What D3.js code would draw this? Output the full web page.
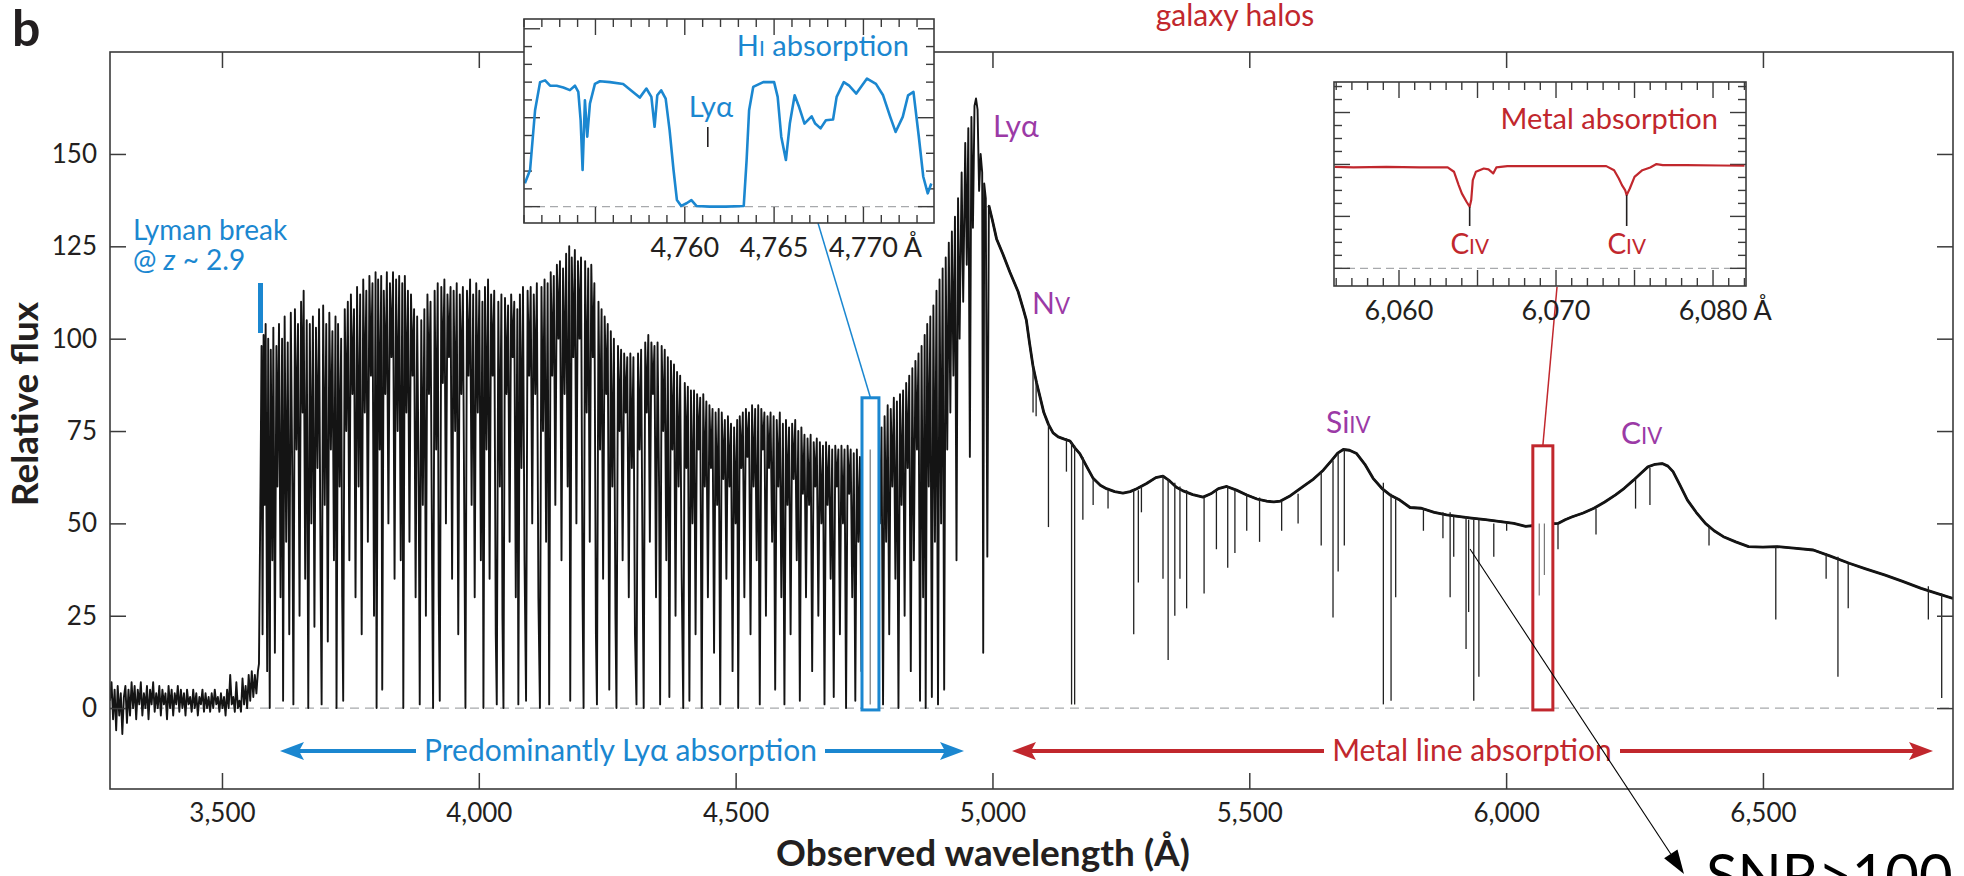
<!DOCTYPE html>
<html><head><meta charset="utf-8">
<script src="https://cdn.jsdelivr.net/npm/d3@7"></script>
<style>
body{margin:0;background:#fff}
svg{display:block}
text{font-family:Lato,'Open Sans','Noto Sans',sans-serif}
</style>
</head><body>
<svg id="c" width="1964" height="876"></svg>
<script>
// ---------------- DATA ----------------
const xTicks = [3500, 4000, 4500, 5000, 5500, 6000, 6500];
const yTicks = [0, 25, 50, 75, 100, 125, 150];

// noisy flux below the Lyman break  [wavelength Å, relative flux]
const noiseSpectrum = [[3282,2],[3285,7],[3288,-3],[3291,5],[3294,-6],[3297,6],[3300,-2],[3303,4],[3306,-7],[3309,3],[3312,6],[3315,-4],[3318,5],[3321,-2],[3324,7],[3327,0],[3330,6],[3333,-3],[3336,5],[3339,1],[3342,7],[3345,-2],[3348,4],[3351,0],[3354,6],[3357,-3],[3360,5],[3363,1],[3366,7],[3369,-1],[3372,4],[3375,0],[3378,6],[3381,-2],[3384,5],[3387,1],[3390,4],[3393,-3],[3396,6],[3399,0],[3402,5],[3405,-2],[3408,4],[3411,1],[3414,6],[3417,-1],[3420,5],[3423,0],[3426,4],[3429,-2],[3432,5],[3435,1],[3438,3],[3441,-1],[3444,5],[3447,0],[3450,4],[3453,-2],[3456,3],[3459,1],[3462,5],[3465,-1],[3468,4],[3471,0],[3474,3],[3477,-1],[3480,4],[3483,0],[3486,5],[3489,1],[3492,3],[3495,-1],[3498,4],[3501,0],[3504,3],[3507,-2],[3510,5],[3513,0],[3516,9],[3519,1],[3522,3],[3525,-1],[3528,7],[3531,0],[3534,2],[3537,-1],[3540,8],[3543,1],[3546,6],[3549,0],[3552,9],[3555,2],[3558,10],[3561,3],[3564,9],[3567,4],[3570,10]];

// Lyman-alpha forest: successive maxima / minima
const forestSpectrum = [[3572,12],[3575,60],[3577,98],[3579,20],[3581,101],[3583,55],[3585,104],[3588,10],[3590,100],[3593,0],[3595,97],[3598,40],[3600,103],[3603,15],[3606,98],[3608,60],[3611,104],[3614,30],[3617,100],[3619,2],[3622,106],[3625,45],[3628,99],[3631,20],[3634,107],[3637,60],[3639,1],[3642,108],[3645,70],[3648,104],[3651,25],[3654,110],[3657,80],[3659,113],[3662,35],[3665,105],[3668,0],[3671,104],[3674,50],[3677,106],[3680,22],[3683,103],[3686,65],[3689,108],[3692,35],[3694,1],[3697,109],[3700,55],[3703,104],[3706,18],[3709,107],[3712,70],[3715,102],[3718,40],[3721,106],[3723,0],[3726,104],[3729,60],[3732,100],[3734,30],[3736,2],[3739,108],[3742,75],[3745,110],[3748,40],[3751,112],[3754,85],[3757,108],[3760,30],[3763,114],[3766,60],[3769,112],[3772,20],[3775,116],[3778,80],[3781,113],[3784,45],[3787,117],[3790,90],[3793,115],[3796,25],[3799,118],[3801,0],[3804,116],[3807,70],[3810,117],[3812,5],[3815,113],[3818,85],[3821,118],[3824,50],[3827,115],[3830,95],[3833,118],[3836,35],[3839,116],[3842,75],[3845,117],[3848,40],[3851,115],[3853,0],[3856,117],[3859,80],[3862,113],[3865,45],[3868,112],[3871,90],[3874,108],[3877,30],[3880,106],[3883,60],[3885,1],[3888,105],[3891,55],[3894,108],[3897,25],[3900,112],[3903,85],[3906,110],[3909,40],[3911,0],[3914,113],[3917,70],[3920,115],[3922,30],[3924,2],[3927,114],[3930,88],[3933,116],[3936,50],[3939,112],[3942,95],[3945,114],[3948,35],[3951,113],[3954,75],[3957,115],[3960,20],[3963,112],[3966,85],[3969,114],[3972,45],[3974,0],[3977,113],[3980,90],[3983,116],[3986,55],[3989,112],[3992,30],[3995,115],[3998,80],[4001,113],[4004,40],[4007,110],[4009,0],[4012,114],[4015,70],[4018,116],[4021,35],[4024,112],[4027,90],[4030,113],[4033,20],[4035,1],[4038,110],[4041,60],[4044,112],[4046,25],[4048,0],[4051,111],[4054,85],[4057,109],[4060,45],[4063,112],[4066,95],[4069,110],[4072,30],[4075,108],[4077,1],[4080,112],[4083,65],[4086,114],[4089,40],[4092,2],[4095,113],[4098,90],[4101,114],[4104,50],[4107,112],[4110,85],[4113,115],[4116,30],[4119,0],[4122,114],[4125,75],[4128,116],[4131,45],[4134,115],[4137,1],[4140,118],[4143,90],[4146,117],[4149,55],[4152,120],[4155,100],[4158,121],[4161,40],[4164,119],[4167,85],[4170,123],[4173,60],[4176,125],[4178,2],[4181,122],[4184,95],[4187,124],[4190,50],[4193,121],[4196,100],[4199,122],[4202,30],[4204,0],[4207,121],[4210,80],[4213,119],[4216,45],[4219,120],[4222,95],[4225,115],[4228,20],[4230,1],[4233,110],[4236,70],[4239,108],[4242,35],[4245,106],[4248,85],[4251,104],[4254,5],[4257,102],[4260,60],[4263,100],[4266,25],[4268,0],[4271,98],[4274,75],[4277,97],[4280,40],[4283,96],[4286,80],[4289,95],[4292,30],[4295,96],[4298,65],[4301,95],[4304,20],[4307,1],[4310,96],[4313,70],[4316,97],[4319,35],[4321,0],[4324,99],[4327,80],[4330,101],[4333,45],[4336,99],[4339,85],[4342,98],[4345,30],[4348,99],[4351,60],[4353,1],[4356,98],[4359,75],[4362,97],[4365,40],[4368,95],[4371,3],[4374,94],[4377,70],[4380,93],[4383,25],[4386,91],[4389,60],[4392,90],[4395,35],[4398,0],[4401,88],[4404,65],[4407,87],[4410,2],[4413,86],[4416,50],[4419,86],[4422,20],[4425,85],[4428,70],[4431,84],[4434,0],[4437,85],[4440,60],[4443,83],[4446,30],[4449,82],[4452,65],[4455,81],[4458,15],[4461,80],[4464,55],[4467,81],[4470,1],[4473,80],[4476,62],[4479,78],[4482,35],[4485,79],[4488,60],[4491,77],[4494,10],[4497,76],[4500,50],[4503,78],[4505,0],[4508,79],[4511,65],[4514,80],[4517,30],[4520,81],[4523,68],[4526,80],[4529,20],[4532,82],[4535,60],[4538,81],[4541,40],[4544,82],[4547,1],[4550,81],[4553,70],[4556,80],[4559,25],[4562,79],[4565,65],[4568,80],[4571,45],[4574,79],[4577,5],[4580,78],[4583,60],[4586,80],[4589,30],[4592,77],[4595,1],[4598,78],[4601,55],[4604,76],[4607,20],[4610,77],[4613,62],[4616,78],[4619,40],[4622,75],[4625,2],[4628,76],[4631,58],[4634,74],[4637,30],[4640,73],[4643,55],[4646,74],[4649,10],[4652,72],[4655,60],[4658,73],[4661,25],[4664,72],[4667,50],[4670,71],[4673,1],[4676,72],[4679,55],[4682,71],[4685,35],[4688,70],[4691,3],[4694,71],[4697,60],[4700,70],[4703,20],[4706,71],[4709,50],[4712,70],[4715,0],[4718,71],[4721,58],[4724,70],[4727,30],[4730,69],[4733,2],[4736,70],[4739,45],[4742,68],[4745,10],[4748,66],[4751,30],[4754,68],[4757,2],[4760,1],[4763,60],[4766,70],[4769,40],[4772,68],[4775,5],[4778,72],[4781,50],[4784,76],[4787,1],[4790,79],[4793,45],[4796,82],[4799,20],[4802,81],[4805,60],[4808,84],[4811,35],[4814,83],[4817,0],[4820,85],[4823,55],[4826,86],[4829,25],[4832,88],[4835,65],[4838,90],[4841,10],[4844,92],[4847,40],[4850,94],[4853,70],[4856,96],[4859,2],[4862,98],[4865,30],[4868,101],[4870,0],[4873,104],[4876,60],[4879,106],[4882,3],[4885,109],[4888,45],[4891,113],[4894,1],[4897,116],[4900,50],[4903,119],[4906,5],[4909,122],[4912,70],[4915,126],[4918,80],[4921,129],[4924,90],[4927,133],[4930,40],[4933,138],[4936,100],[4940,145],[4943,110],[4947,153],[4950,120],[4953,157],[4956,68],[4959,160],[4962,130],[4965,163],[4968,165],[4971,162],[4974,140],[4977,150],[4980,145],[4982,15],[4984,142],[4987,138],[4990,41],[4993,136]];

// emission-line continuum redward of Lyα
const continuumSpectrum = [[4993,136],[5000,132],[5008,127],[5020,123],[5034,118],[5050,112.7],[5060,108],[5066,105],[5072,99],[5079,92.5],[5086,88],[5092,84.6],[5100,80],[5109,76.8],[5118,74.5],[5128,73.4],[5140,72.8],[5151,72.3],[5160,70.5],[5170,68.9],[5183,65.5],[5196,62.2],[5210,60.3],[5222,59.4],[5238,58.6],[5254,58.2],[5268,58.6],[5281,59.4],[5300,60.8],[5318,62.4],[5332,62.8],[5345,61.5],[5358,59.8],[5371,58.8],[5390,57.8],[5410,57.1],[5425,58],[5440,59.4],[5456,60],[5475,59],[5495,57.7],[5515,56.6],[5534,56],[5548,55.8],[5560,56],[5580,57.5],[5605,60],[5625,62],[5644,64.4],[5660,67],[5672,69],[5683,70],[5695,69.8],[5709,68.9],[5725,66],[5741,62.2],[5758,59.5],[5774,57.7],[5793,56.3],[5813,54.3],[5835,54.1],[5860,53],[5884,52.3],[5910,51.8],[5933,51.4],[5960,51],[5989,50.5],[6015,50],[6038,49.2],[6060,49.5],[6080,49.8],[6101,50],[6115,51],[6129,51.8],[6150,52.8],[6171,54.1],[6192,55.8],[6213,57.7],[6230,59.5],[6248,61.7],[6262,63.5],[6276,65.3],[6290,66],[6304,66.2],[6315,65.5],[6325,64],[6338,60.5],[6353,56.3],[6370,53],[6388,50],[6405,48],[6423,46.4],[6447,45],[6472,43.7],[6500,43.6],[6528,43.7],[6560,43.3],[6598,42.8],[6630,41.2],[6668,39.2],[6700,37.7],[6738,36],[6772,34.3],[6808,32.4],[6840,31],[6870,29.7]];

// narrow metal absorption lines: [wavelength, continuum flux, line-centre flux]
const metalLines = [[5079,93,80],[5085,88,79],[5109,77,49],[5144,73,64],[5154,72,1],[5160,71,1],[5176,68,51],[5196,62,55],[5225,59,54],[5275,59,20],[5284,59,34],[5290,60,53],[5332,63,35],[5342,62,13],[5355,61,25],[5365,60,35],[5378,59,27],[5412,57,31],[5436,59,43],[5458,60,38],[5472,59,42],[5495,58,48],[5520,57,45],[5563,56,48],[5595,58,50],[5640,64,44],[5663,67,24.5],[5673,69,37],[5685,70,44],[5761,61,1],[5776,58,2],[5785,57,30],[5839,54,48],[5877,53,46],[5891,53,30],[5898,52,41],[5922,52,16],[5927,51,26],[5937,51,2],[5947,51,8.5],[5976,50,41],[6001,50,48],[6101,50,43],[6175,54,47],[6252,62,54],[6280,65,55],[6395,49,44],[6525,43.7,24],[6623,42,35],[6646,41,8.5],[6666,39,27],[6822,33,24],[6848,31,2.7]];

// zoom windows on the main spectrum
const hiWindow = [4746, 4779], hiWindowTop = 84;
const metalWindow = [6052, 6091], metalWindowTop = 71;
const hiWindowLines = [[4762, 70, 1]];
const metalWindowLines = [[6064.5, 50, 30.5], [6074.5, 50, 36]];

// inset: H I absorption (flux in inset tick units)
const hiInset = [[4751.05,1.31],[4751.34,2.06],[4751.62,5.42],[4751.9,7.0],[4752.18,7.1],[4752.46,6.8],[4752.83,6.8],[4753.2,6.7],[4753.57,6.55],[4753.85,6.8],[4754.04,6.45],[4754.17,4.86],[4754.28,2.06],[4754.41,5.98],[4754.54,3.93],[4754.69,5.79],[4754.97,6.9],[4755.25,7.05],[4755.81,7.0],[4756.55,6.9],[4757.1,6.45],[4757.48,6.13],[4757.85,6.64],[4758.13,6.17],[4758.31,4.49],[4758.46,6.26],[4758.68,6.54],[4758.93,6.07],[4759.15,4.3],[4759.37,2.06],[4759.56,0.37],[4759.8,0.04],[4760.1,0.19],[4760.37,0.37],[4760.65,0.04],[4761.4,0],[4762.3,0],[4763.3,0.04],[4763.46,2.6],[4763.6,5.42],[4763.83,6.73],[4764.39,7.0],[4765.0,7.0],[4765.2,6.17],[4765.4,3.93],[4765.66,2.62],[4765.88,4.67],[4766.15,6.26],[4766.4,5.6],[4766.7,4.67],[4767.1,5.08],[4767.3,4.67],[4767.6,4.4],[4767.9,4.86],[4768.3,4.9],[4768.5,6.17],[4768.9,7.0],[4769.2,6.8],[4769.6,6.36],[4769.8,6.64],[4770.2,7.2],[4770.7,6.9],[4771.1,6.26],[4771.5,5.05],[4771.8,4.2],[4772.2,5.05],[4772.5,6.26],[4772.8,6.45],[4773.1,3.93],[4773.35,1.68],[4773.6,0.75],[4773.8,1.3]];
const hiInsetTicks = [4760, 4765, 4770];
const hiLyaMark = [4761.4];

// inset: metal (C IV doublet) absorption
const metalInset = [[6055.9,7.82],[6057.1,7.77],[6059.2,7.82],[6061.3,7.77],[6063.1,7.77],[6063.5,7.44],[6063.8,6.41],[6064.0,5.77],[6064.3,5.13],[6064.5,4.74],[6064.6,5.26],[6064.7,6.79],[6064.9,7.44],[6065.4,7.69],[6065.7,7.62],[6066.0,7.31],[6066.2,7.77],[6066.9,7.87],[6068.8,7.87],[6070.9,7.87],[6073.2,7.87],[6073.7,7.56],[6074.0,6.92],[6074.2,6.41],[6074.4,6.03],[6074.5,5.64],[6074.7,6.15],[6075.0,7.05],[6075.5,7.56],[6076.0,7.77],[6076.4,8.03],[6076.8,7.95],[6078.3,7.95],[6080.5,7.92],[6082.0,7.9]];
const metalInsetTicks = [6060, 6070, 6080];
const civDips = [[6064.5, 4.74], [6074.5, 5.64]];

// ---------------- DRAWING ----------------
const ink = "#231f20", frame = "#3b3b3b", blue = "#1b87d0", red = "#c1272d",
      purple = "#9b3aa6", dash = "#a7a9ac", specCol = "#141414";
const FONT = "Lato,'Open Sans','Noto Sans',sans-serif";
const svg = d3.select("#c");

const L = 110, R = 1953, T = 52, B = 789;
const x = d3.scaleLinear().domain([3282, 6870]).range([L, R]);
const y = d3.scaleLinear().domain([-21.9, 177.6]).range([B, T]);

const defs = svg.append("defs");
defs.append("clipPath").attr("id", "mainclip").append("rect")
  .attr("x", L).attr("y", T).attr("width", R - L).attr("height", B - T);

// zero line
svg.append("line").attr("x1", L).attr("x2", R).attr("y1", y(0)).attr("y2", y(0))
  .attr("stroke", dash).attr("stroke-width", 1.4).attr("stroke-dasharray", "9,6");

const plot = svg.append("g").attr("clip-path", "url(#mainclip)");
const line = d3.line().x(d => x(d[0])).y(d => y(d[1]));
const spectrum = noiseSpectrum.concat(forestSpectrum, continuumSpectrum);
plot.append("path").attr("d", line(spectrum)).attr("fill", "none")
  .attr("stroke", specCol).attr("stroke-width", 1.9).attr("stroke-linejoin", "round");
plot.append("path").attr("d", line(continuumSpectrum)).attr("fill", "none")
  .attr("stroke", specCol).attr("stroke-width", 2.8).attr("stroke-linejoin", "round");
plot.selectAll(".ml").data(metalLines).join("line").attr("class", "ml")
  .attr("x1", d => x(d[0])).attr("x2", d => x(d[0]))
  .attr("y1", d => y(d[1])).attr("y2", d => y(d[2]))
  .attr("stroke", "#222").attr("stroke-width", 1.3);

// zoom windows
function windowBox(win, top, col, lines) {
  svg.append("rect").attr("x", x(win[0])).attr("y", y(top))
    .attr("width", x(win[1]) - x(win[0])).attr("height", y(-0.5) - y(top))
    .attr("fill", "#fff").attr("stroke", col).attr("stroke-width", 3);
  svg.selectAll(null).data(lines).join("line")
    .attr("x1", d => x(d[0])).attr("x2", d => x(d[0]))
    .attr("y1", d => y(d[1])).attr("y2", d => y(d[2]))
    .attr("stroke", "#777").attr("stroke-width", 1.2);
}
windowBox(hiWindow, hiWindowTop, blue, hiWindowLines);
windowBox(metalWindow, metalWindowTop, red, metalWindowLines);

// Lyman break marker
svg.append("line").attr("x1", 260.5).attr("x2", 260.5).attr("y1", 283).attr("y2", 333)
  .attr("stroke", blue).attr("stroke-width", 5);

// main axes (inward ticks on all four sides)
function styleAxis(g) {
  g.select(".domain").remove();
  g.selectAll("line").attr("stroke", frame).attr("stroke-width", 1.5);
  g.selectAll("text").attr("fill", ink).attr("font-size", 26).attr("font-family", FONT);
}
svg.append("g").attr("transform", `translate(0,${B})`)
  .call(d3.axisBottom(x).tickValues(xTicks).tickSize(-16).tickPadding(15).tickFormat(d3.format(",")))
  .call(styleAxis);
svg.append("g").attr("transform", `translate(0,${T})`)
  .call(d3.axisTop(x).tickValues(xTicks).tickSize(-16).tickFormat(""))
  .call(styleAxis);
svg.append("g").attr("transform", `translate(${L},0)`)
  .call(d3.axisLeft(y).tickValues(yTicks).tickSize(-16).tickPadding(13))
  .call(styleAxis);
svg.append("g").attr("transform", `translate(${R},0)`)
  .call(d3.axisRight(y).tickValues(yTicks).tickSize(-16).tickFormat(""))
  .call(styleAxis);
svg.append("rect").attr("x", L).attr("y", T).attr("width", R - L).attr("height", B - T)
  .attr("fill", "none").attr("stroke", frame).attr("stroke-width", 1.6);

// axis titles
svg.append("text").attr("x", 983).attr("y", 866).attr("text-anchor", "middle")
  .attr("font-weight", 700).attr("font-size", 37).attr("fill", ink).text("Observed wavelength (Å)");
svg.append("text").attr("transform", "translate(38,404) rotate(-90)").attr("text-anchor", "middle")
  .attr("font-weight", 700).attr("font-size", 37).attr("fill", ink).text("Relative flux");
svg.append("text").attr("x", 12).attr("y", 46).attr("font-weight", 700).attr("font-size", 50)
  .attr("fill", ink).text("b");

// helper for labels with small-capital ionisation stages
function scText(xp, yp, parts, col, size, anchor) {
  const t = svg.append("text").attr("x", xp).attr("y", yp).attr("fill", col)
    .attr("font-size", size).attr("text-anchor", anchor || "start");
  parts.forEach(p => t.append("tspan").attr("font-size", p[1] ? size * 0.74 : size).text(p[0]));
  return t;
}

// annotations: Lyman break (two lines in one text element)
const lb = svg.append("text").attr("x", 133).attr("y", 240).attr("fill", blue).attr("font-size", 28);
lb.append("tspan").attr("x", 133).text("Lyman break");
lb.append("tspan").attr("x", 133).attr("dy", 30).text("@ ");
lb.append("tspan").attr("font-style", "italic").text("z");
lb.append("tspan").text(" ~ 2.9");

scText(993, 137, [["Lyα", 0]], purple, 30);
scText(1032, 314, [["N", 0], ["V", 1]], purple, 30);
scText(1326, 433, [["Si", 0], ["IV", 1]], purple, 30);
scText(1621, 444, [["C", 0], ["IV", 1]], purple, 30);

svg.append("text").attr("x", 1235).attr("y", 26).attr("text-anchor", "middle")
  .attr("fill", red).attr("font-size", 30).text("galaxy halos");

// range arrows
function rangeArrow(x0, x1, yy, gap0, gap1, col, label) {
  const g = svg.append("g");
  g.append("line").attr("x1", x0 + 18).attr("x2", gap0).attr("y1", yy).attr("y2", yy)
    .attr("stroke", col).attr("stroke-width", 4);
  g.append("line").attr("x1", gap1).attr("x2", x1 - 18).attr("y1", yy).attr("y2", yy)
    .attr("stroke", col).attr("stroke-width", 4);
  g.append("path").attr("d", `M${x0},${yy} L${x0 + 24},${yy - 9} L${x0 + 19},${yy} L${x0 + 24},${yy + 9} Z`).attr("fill", col);
  g.append("path").attr("d", `M${x1},${yy} L${x1 - 24},${yy - 9} L${x1 - 19},${yy} L${x1 - 24},${yy + 9} Z`).attr("fill", col);
  g.append("text").attr("x", (gap0 + gap1) / 2).attr("y", yy + 10).attr("text-anchor", "middle")
    .attr("fill", col).attr("font-size", 30).text(label);
}
rangeArrow(280, 964, 751, 416, 825, blue, "Predominantly Lyα absorption");
rangeArrow(1012, 1933, 751, 1324, 1620, red, "Metal line absorption");

// connector lines to insets
svg.append("line").attr("x1", 818).attr("y1", 223).attr("x2", (x(hiWindow[0]) + x(hiWindow[1])) / 2).attr("y2", y(hiWindowTop))
  .attr("stroke", blue).attr("stroke-width", 1.5);
svg.append("line").attr("x1", 1557).attr("y1", 287).attr("x2", (x(metalWindow[0]) + x(metalWindow[1])) / 2).attr("y2", y(metalWindowTop))
  .attr("stroke", red).attr("stroke-width", 1.5);

// ---------------- INSETS ----------------
function inset(cfg) {
  const xi = d3.scaleLinear().domain(cfg.xd).range([cfg.x0, cfg.x1]);
  const yi = d3.scaleLinear().domain(cfg.yd).range([cfg.y1, cfg.y0]);
  const g = svg.append("g");
  g.append("rect").attr("x", cfg.x0).attr("y", cfg.y0).attr("width", cfg.x1 - cfg.x0)
    .attr("height", cfg.y1 - cfg.y0).attr("fill", "#fff");
  const cid = cfg.id + "clip";
  defs.append("clipPath").attr("id", cid).append("rect").attr("x", cfg.x0).attr("y", cfg.y0)
    .attr("width", cfg.x1 - cfg.x0).attr("height", cfg.y1 - cfg.y0);
  g.append("line").attr("x1", cfg.x0).attr("x2", cfg.x1).attr("y1", yi(0)).attr("y2", yi(0))
    .attr("stroke", dash).attr("stroke-width", 1.4).attr("stroke-dasharray", "8,5");
  const xMinor = d3.range(Math.ceil(cfg.xd[0]), cfg.xd[1], 1);
  const yMinor = d3.range(0, cfg.yd[1], 1);
  const xs = v => (v % cfg.xMajor === 0 ? 16 : 8);
  const ys = v => (v % cfg.yMajor === 0 ? 16 : 8);
  const tk = g.append("g").attr("stroke", frame).attr("stroke-width", 1.4);
  xMinor.forEach(v => {
    tk.append("line").attr("x1", xi(v)).attr("x2", xi(v)).attr("y1", cfg.y1).attr("y2", cfg.y1 - xs(v));
    tk.append("line").attr("x1", xi(v)).attr("x2", xi(v)).attr("y1", cfg.y0).attr("y2", cfg.y0 + xs(v));
  });
  yMinor.forEach(v => {
    tk.append("line").attr("x1", cfg.x0).attr("x2", cfg.x0 + ys(v)).attr("y1", yi(v)).attr("y2", yi(v));
    tk.append("line").attr("x1", cfg.x1).attr("x2", cfg.x1 - ys(v)).attr("y1", yi(v)).attr("y2", yi(v));
  });
  g.append("path").attr("clip-path", `url(#${cid})`)
    .attr("d", d3.line().x(d => xi(d[0])).y(d => yi(d[1]))(cfg.data))
    .attr("fill", "none").attr("stroke", cfg.col).attr("stroke-width", cfg.sw).attr("stroke-linejoin", "round");
  g.append("rect").attr("x", cfg.x0).attr("y", cfg.y0).attr("width", cfg.x1 - cfg.x0)
    .attr("height", cfg.y1 - cfg.y0).attr("fill", "none").attr("stroke", frame).attr("stroke-width", 1.6);
  const fmt = d3.format(",");
  cfg.ticks.forEach((v, i) => {
    const t = g.append("text").attr("y", cfg.y1 + 34).attr("fill", ink).attr("font-size", 27).text(fmt(v));
    const w = t.node().getComputedTextLength();
    t.attr("x", xi(v) - w / 2);
    if (i === cfg.ticks.length - 1) t.append("tspan").text(" Å");
  });
  return { xi, yi, g };
}

const ins1 = inset({ id: "hi", x0: 524, x1: 934, y0: 19, y1: 223, xd: [4751, 4773.95], yd: [-0.92, 10.55],
  xMajor: 5, yMajor: 5, data: hiInset, col: blue, sw: 2.6, ticks: hiInsetTicks });
const hiT = svg.append("text").attr("x", 909).attr("y", 56).attr("text-anchor", "end")
  .attr("fill", blue).attr("font-size", 29);
hiT.append("tspan").text("H");
hiT.append("tspan").attr("font-size", 21).text("I");
hiT.append("tspan").text(" absorption");
svg.append("text").attr("x", 711).attr("y", 117).attr("text-anchor", "middle")
  .attr("fill", blue).attr("font-size", 29).text("Lyα");
svg.selectAll(null).data(hiLyaMark).join("line")
  .attr("x1", d => ins1.xi(d) - 2).attr("x2", d => ins1.xi(d) - 2).attr("y1", 127).attr("y2", 147)
  .attr("stroke", ink).attr("stroke-width", 1.6);

const ins2 = inset({ id: "mt", x0: 1334, x1: 1746, y0: 82, y1: 286, xd: [6055.86, 6082.1], yd: [-1.36, 14.35],
  xMajor: 5, yMajor: 4, data: metalInset, col: red, sw: 2.2, ticks: metalInsetTicks });
svg.append("text").attr("x", 1718).attr("y", 129).attr("text-anchor", "end")
  .attr("fill", red).attr("font-size", 29).text("Metal absorption");
svg.selectAll(null).data(civDips).join("line")
  .attr("x1", d => ins2.xi(d[0])).attr("x2", d => ins2.xi(d[0]))
  .attr("y1", d => ins2.yi(d[1])).attr("y2", 226)
  .attr("stroke", ink).attr("stroke-width", 1.6);
civDips.forEach(d => scText(ins2.xi(d[0]), 254, [["C", 0], ["IV", 1]], red, 28, "middle"));

// SNR annotation
const ax0 = 1470, ay0 = 549, ax1 = 1684, ay1 = 874;
const ang = Math.atan2(ay1 - ay0, ax1 - ax0);
const hl = 24, hw = 8;
const bx = ax1 - hl * Math.cos(ang), by = ay1 - hl * Math.sin(ang);
svg.append("line").attr("x1", ax0).attr("y1", ay0).attr("x2", bx).attr("y2", by)
  .attr("stroke", "#000").attr("stroke-width", 1.1);
svg.append("path").attr("d",
  `M${ax1},${ay1} L${bx + hw * Math.sin(ang)},${by - hw * Math.cos(ang)} L${bx - hw * Math.sin(ang)},${by + hw * Math.cos(ang)} Z`)
  .attr("fill", "#000");
svg.append("text").attr("x", 1706).attr("y", 896).attr("fill", "#000")
  .attr("font-family", "'Liberation Sans',Arial,sans-serif").attr("font-size", 58).text("SNR>100");
</script>
</body></html>
